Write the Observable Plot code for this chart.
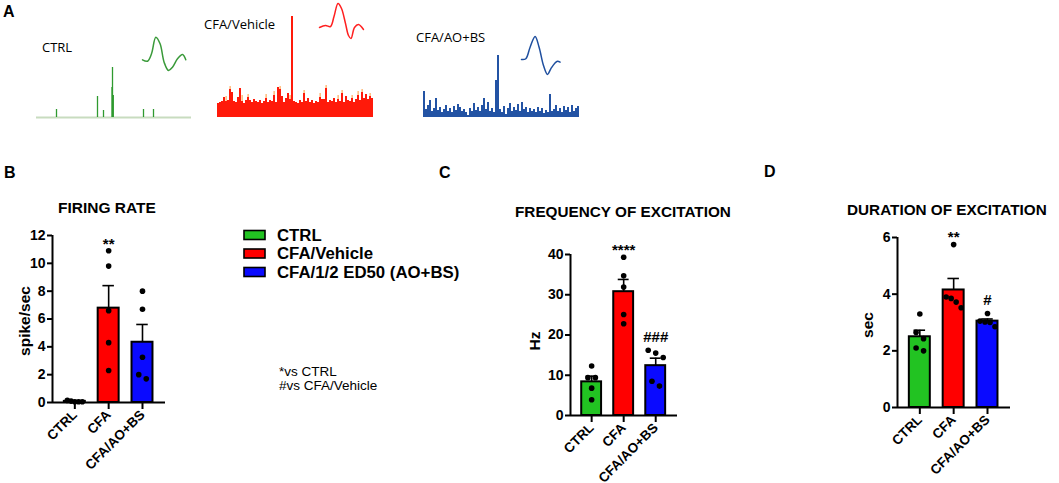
<!DOCTYPE html>
<html><head><meta charset="utf-8">
<script src="https://cdn.jsdelivr.net/npm/d3@7"></script>
<script src="https://cdn.jsdelivr.net/npm/@observablehq/plot@0.6"></script>
<style>
html,body{margin:0;padding:0;background:#fff;}
#root{position:relative;width:1059px;height:483px;overflow:hidden;background:#fff;}
.p{position:absolute;}
.p svg{display:block;overflow:visible;}
#ov{position:absolute;left:0;top:0;pointer-events:none;}
</style></head><body><div id="root"></div>
<script>
// ================= DATA =================
const groups = ["CTRL", "CFA", "CFA/AO+BS"];
const groupColors = ["#22c322", "#ff0000", "#0a0aff"];
const legendLabels = ["CTRL", "CFA/Vehicle", "CFA/1/2 ED50 (AO+BS)"];
const noteLines = ["*vs CTRL", "#vs CFA/Vehicle"];

// B: firing rate (spike/sec)
const firingCTRL = [0.15, 0.1, 0.05, 0.05, 0.05];
const firingCFA = [10.9, 9.8, 6.6, 4.3, 2.3];
const firingAOBS = [8.0, 6.7, 3.25, 2.0, 1.7];
const firingTicks = [0, 2, 4, 6, 8, 10, 12];
const firingSig = ["", "**", ""];

// C: frequency of excitation (Hz)
const freqCTRL = [12.3, 9.4, 9.4, 6.8, 3.9];
const freqCFA = [39.3, 34.7, 31.9, 25.1, 22.8];
const freqAOBS = [16.2, 15.5, 14.4, 8.5, 7.3];
const freqTicks = [0, 10, 20, 30, 40];
const freqSig = ["", "****", "###"];

// D: duration of excitation (sec)
const durCTRL = [3.3, 2.65, 2.43, 2.1, 2.0];
const durCFA = [5.75, 3.9, 3.85, 3.72, 3.52];
const durAOBS = [3.32, 3.05, 3.02, 3.0, 2.85];
const durTicks = [0, 2, 4, 6];
const durSig = ["", "**", "#"];

// A: example traces
const ctrlSpikeTimes = [20, 61, 67, 75.5, 76, 76.8, 107, 117];
const ctrlSpikeHeights = [8, 21, 7, 30, 50, 22, 8, 8];
const cfaBins = [14,15,16,20,16,17,28,25,16,15, 20,29,16,14,17,20,17,15,18,16,
  15,17,14,16,19,15,17,16,22,15, 30,28,21,15,19,24,18,101,16,15,
  14,17,15,24,16,19,15,17,14,16, 15,20,18,18,29,15,17,16,19,15,
  18,16,24,15,21,17,16,19,15,18, 22,17,25,19,23,18,21,19];
const cfaTipBins = [4,6,12,15,24,28,31,36,43,51,54,60,62,67,70,72,76];
const cfaTipHeights = [21,31,22,23,23,26,31,22,27,24,32,22,27,22,26,28,24];
const aobsBins = [26,8,12,17,6,9,19,7,10,5, 8,12,6,9,5,11,7,13,10,6,
  8,5,2,9,6,14,7,10,6,12, 19,8,15,6,9,5,37,62,8,5,
  11,3,9,14,6,10,7,13,6,15, 8,10,5,9,6,8,5,10,6,9,
  4,7,5,23,6,8,12,6,9,5, 11,7,10,5,12,6,9,11];
const waveCtrlT = [0, 5, 9, 13.3, 17.6, 21.6, 26, 30, 35, 40, 43.3];
const waveCtrlV = [0.7, -0.7, 6.7, 23.3, 16.7, -1.7, -10, -6.7, 1.7, 6, 0.7];
const waveCfaT = [0, 6, 11, 14.5, 18.5, 22, 26, 29, 31.5, 35, 39, 44];
const waveCfaV = [3, 5, 4, 14, 27, 22, 7, -5, -8, 3, 6, 1];
const waveAobsT = [0, 4.3, 8.6, 13.6, 17.6, 22, 26, 29.3, 33.3, 36, 38.6];
const waveAobsV = [1, 1.7, 13.3, 24, 13.3, -5, -14, -8.3, -2.7, -0.7, -1.7];

// ================= LAYOUT / HELPERS =================
const root = document.getElementById("root");
const FONT = "Liberation Sans, Arial, sans-serif";
function place(svg, left, top) {
  const d = document.createElement("div");
  d.className = "p"; d.style.left = left + "px"; d.style.top = top + "px";
  d.appendChild(svg); root.appendChild(d);
}
const baseStyle = {fontFamily: FONT, color: "black", background: "transparent", overflow: "visible"};

// ---- panel A traces ----
place(Plot.plot({
  width: 155, height: 62, marginTop: 2, marginBottom: 2, marginLeft: 0, marginRight: 0, style: baseStyle,
  x: {domain: [0, 155], axis: null}, y: {domain: [0, 58], axis: null},
  marks: [
    Plot.ruleY([0], {stroke: "#c8dcbf", strokeWidth: 2}),
    Plot.ruleX(ctrlSpikeTimes, {x: d => d, y1: 0, y2: (d, i) => ctrlSpikeHeights[i], stroke: "#2f9a2f", strokeWidth: 1.3})
  ]
}), 36, 57);

place(Plot.plot({
  width: 156, height: 107, marginTop: 0, marginBottom: 2, marginLeft: 0, marginRight: 0, style: baseStyle,
  x: {domain: [0, cfaBins.length], axis: null}, y: {domain: [0, 105], axis: null},
  marks: [
    Plot.rectY(cfaTipBins, {x1: d => d + 0.3, x2: d => d + 0.8, y1: 0, y2: (d, i) => cfaTipHeights[i], fill: "#ff9a3a"}),
    Plot.rectY(cfaBins, {x1: (d, i) => i, x2: (d, i) => i + 1, y1: 0, y2: d => d, fill: "#ff1a0a"})
  ]
}), 217, 12);

place(Plot.plot({
  width: 156, height: 69, marginTop: 0, marginBottom: 2, marginLeft: 0, marginRight: 0, style: baseStyle,
  x: {domain: [0, aobsBins.length], axis: null}, y: {domain: [0, 67], axis: null},
  marks: [
    Plot.rectY(aobsBins, {x1: (d, i) => i, x2: (d, i) => i + 1, y1: 0, y2: d => d, fill: "#2353a4"})
  ]
}), 423, 50);

function wave(T, V, vmin, vmax, color, left, top) {
  const tmax = d3.max(T);
  place(Plot.plot({
    width: tmax + 4, height: (vmax - vmin) + 4, margin: 2, style: baseStyle,
    x: {domain: [0, tmax], axis: null}, y: {domain: [vmin, vmax], axis: null},
    marks: [Plot.line(T.map((t, i) => [t, V[i]]), {x: d => d[0], y: d => d[1], curve: "catmull-rom", stroke: color, strokeWidth: 1.5})]
  }), left - 2, top - 2);
}
wave(waveCtrlT, waveCtrlV, -10, 24, "#3a9a3a", 142, 36);
wave(waveCfaT, waveCfaV, -9, 27, "#ff2020", 319, 3);
wave(waveAobsT, waveAobsV, -14, 24, "#1f4f9f", 521, 36);

// ---- bar panels ----
function barPanel({left, top, width, height, ml, mr, mt, mb, values, ticks, sig}) {
  const ymax = ticks[ticks.length - 1];
  const xDomain = [-0.66, 2.68];
  const fw = width - ml - mr, fh = height - mt - mb;
  const pxX = fw / (xDomain[1] - xDomain[0]);
  const pxY = fh / ymax;
  const stats = values.map((v, i) => {
    const m = d3.mean(v);
    return {i, mean: m, hi: m + d3.deviation(v) / Math.sqrt(v.length), top: d3.max(v), sig: sig[i], color: groupColors[i]};
  });
  const dots = [];
  values.forEach((v, i) => {
    const s = [...v].sort((a, b) => b - a);
    const clusters = []; let cur = [s[0]];
    for (let k = 1; k < s.length; k++) {
      if ((cur[cur.length - 1] - s[k]) * pxY < 7) cur.push(s[k]); else { clusters.push(cur); cur = [s[k]]; }
    }
    clusters.push(cur);
    clusters.forEach(c => {
      const sp = c.length > 1 ? Math.min(7.5, 15 / (c.length - 1)) : 0;
      c.forEach((val, k) => dots.push({x: i + (k - (c.length - 1) / 2) * sp / pxX, y: val}));
    });
  });
  place(Plot.plot({
    width, height, marginLeft: ml, marginRight: mr, marginTop: mt, marginBottom: mb,
    style: {...baseStyle, fontSize: "13px"},
    x: {domain: xDomain}, y: {domain: [0, ymax]}, color: {type: "identity"},
    marks: [
      Plot.rectY(stats, {x1: d => d.i - 0.31, x2: d => d.i + 0.31, y1: 0, y2: "mean", fill: "color", stroke: "black", strokeWidth: 2}),
      Plot.ruleX(stats, {x: "i", y1: "mean", y2: "hi", stroke: "black", strokeWidth: 1.6}),
      Plot.ruleY(stats, {y: "hi", x1: d => d.i - 0.17, x2: d => d.i + 0.17, stroke: "black", strokeWidth: 1.6}),
      Plot.dot(dots, {x: "x", y: "y", r: 2.8, fill: "black"}),
      Plot.text(stats.filter(d => d.sig.startsWith("*")), {x: "i", y: "top", text: "sig", dy: -7, fontSize: 15, fontWeight: "bold", fill: "black"}),
      Plot.text(stats.filter(d => d.sig.startsWith("#")), {x: "i", y: "top", text: "sig", dy: -13, fontSize: 15, fontWeight: "bold", fill: "black"}),
      Plot.ruleY([0], {strokeWidth: 2}),
      Plot.ruleX([xDomain[0]], {y1: 0, y2: ymax, strokeWidth: 2}),
      Plot.axisY({ticks, tickFormat: d3.format("d"), tickSize: 5, tickPadding: 2, strokeWidth: 2, label: null, fontSize: 14, fontWeight: "bold"}),
      Plot.axisX({ticks: [0, 1, 2], tickFormat: i => groups[i], tickRotate: -45, tickSize: 7, tickPadding: 3, strokeWidth: 2, label: null, fontSize: 13.5, fontWeight: "bold"})
    ]
  }), left, top);
}
barPanel({left: 0, top: 225, width: 175, height: 258, ml: 52, mr: 10, mt: 10, mb: 81,
  values: [firingCTRL, firingCFA, firingAOBS], ticks: firingTicks, sig: firingSig});
barPanel({left: 480, top: 230, width: 210, height: 253, ml: 90, mr: 13, mt: 24, mb: 68,
  values: [freqCTRL, freqCFA, freqAOBS], ticks: freqTicks, sig: freqSig});
barPanel({left: 810, top: 220, width: 249, height: 263, ml: 87, mr: 49, mt: 17, mb: 76,
  values: [durCTRL, durCFA, durAOBS], ticks: durTicks, sig: durSig});

// ---- overlay text & legend ----
const ov = d3.select(root).append("svg").attr("id", "ov").attr("width", 1059).attr("height", 483)
  .style("font-family", FONT);
function txt(s, x, y, size, weight, opts = {}) {
  const t = ov.append("text").attr("x", x).attr("y", y).attr("font-size", size).attr("font-weight", weight).attr("fill", "black").text(s);
  if (opts.anchor) t.attr("text-anchor", opts.anchor);
  if (opts.rotate) t.attr("transform", `rotate(${opts.rotate},${x},${y})`);
  if (opts.family) t.attr("font-family", opts.family);
  return t;
}
// panel letters
txt("A", 3, 17, 16, "bold");
txt("B", 4, 178, 16, "bold");
txt("C", 439, 178, 16, "bold");
txt("D", 764, 177, 16, "bold");
// panel A labels
const OS = "Open Sans, sans-serif";
txt("CTRL", 42, 52, 13, "normal", {family: OS});
txt("CFA/Vehicle", 204, 29, 13, "normal", {family: OS});
txt("CFA/AO+BS", 416, 42, 13, "normal", {family: OS});
// titles
txt("FIRING RATE", 58, 213, 15.5, "bold");
txt("FREQUENCY OF EXCITATION", 515, 216.5, 15.3, "bold");
txt("DURATION OF EXCITATION", 847, 215, 15.3, "bold");
// y labels
txt("spike/sec", 30, 321, 15.5, "bold", {anchor: "middle", rotate: -90});
txt("Hz", 540, 341, 15.5, "bold", {anchor: "middle", rotate: -90});
txt("sec", 873, 325, 15.5, "bold", {anchor: "middle", rotate: -90});
// legend
legendLabels.forEach((lab, i) => {
  const cy = 235 + i * 18.5;
  ov.append("rect").attr("x", 244).attr("y", cy - 4.5).attr("width", 21).attr("height", 9)
    .attr("fill", groupColors[i]).attr("stroke", "black").attr("stroke-width", 1.6);
  txt(lab, 277, cy + 5.8, 16.8, "bold");
});
noteLines.forEach((s, i) => txt(s, 279, 376 + i * 14, 13.5, "normal"));
</script></body></html>
